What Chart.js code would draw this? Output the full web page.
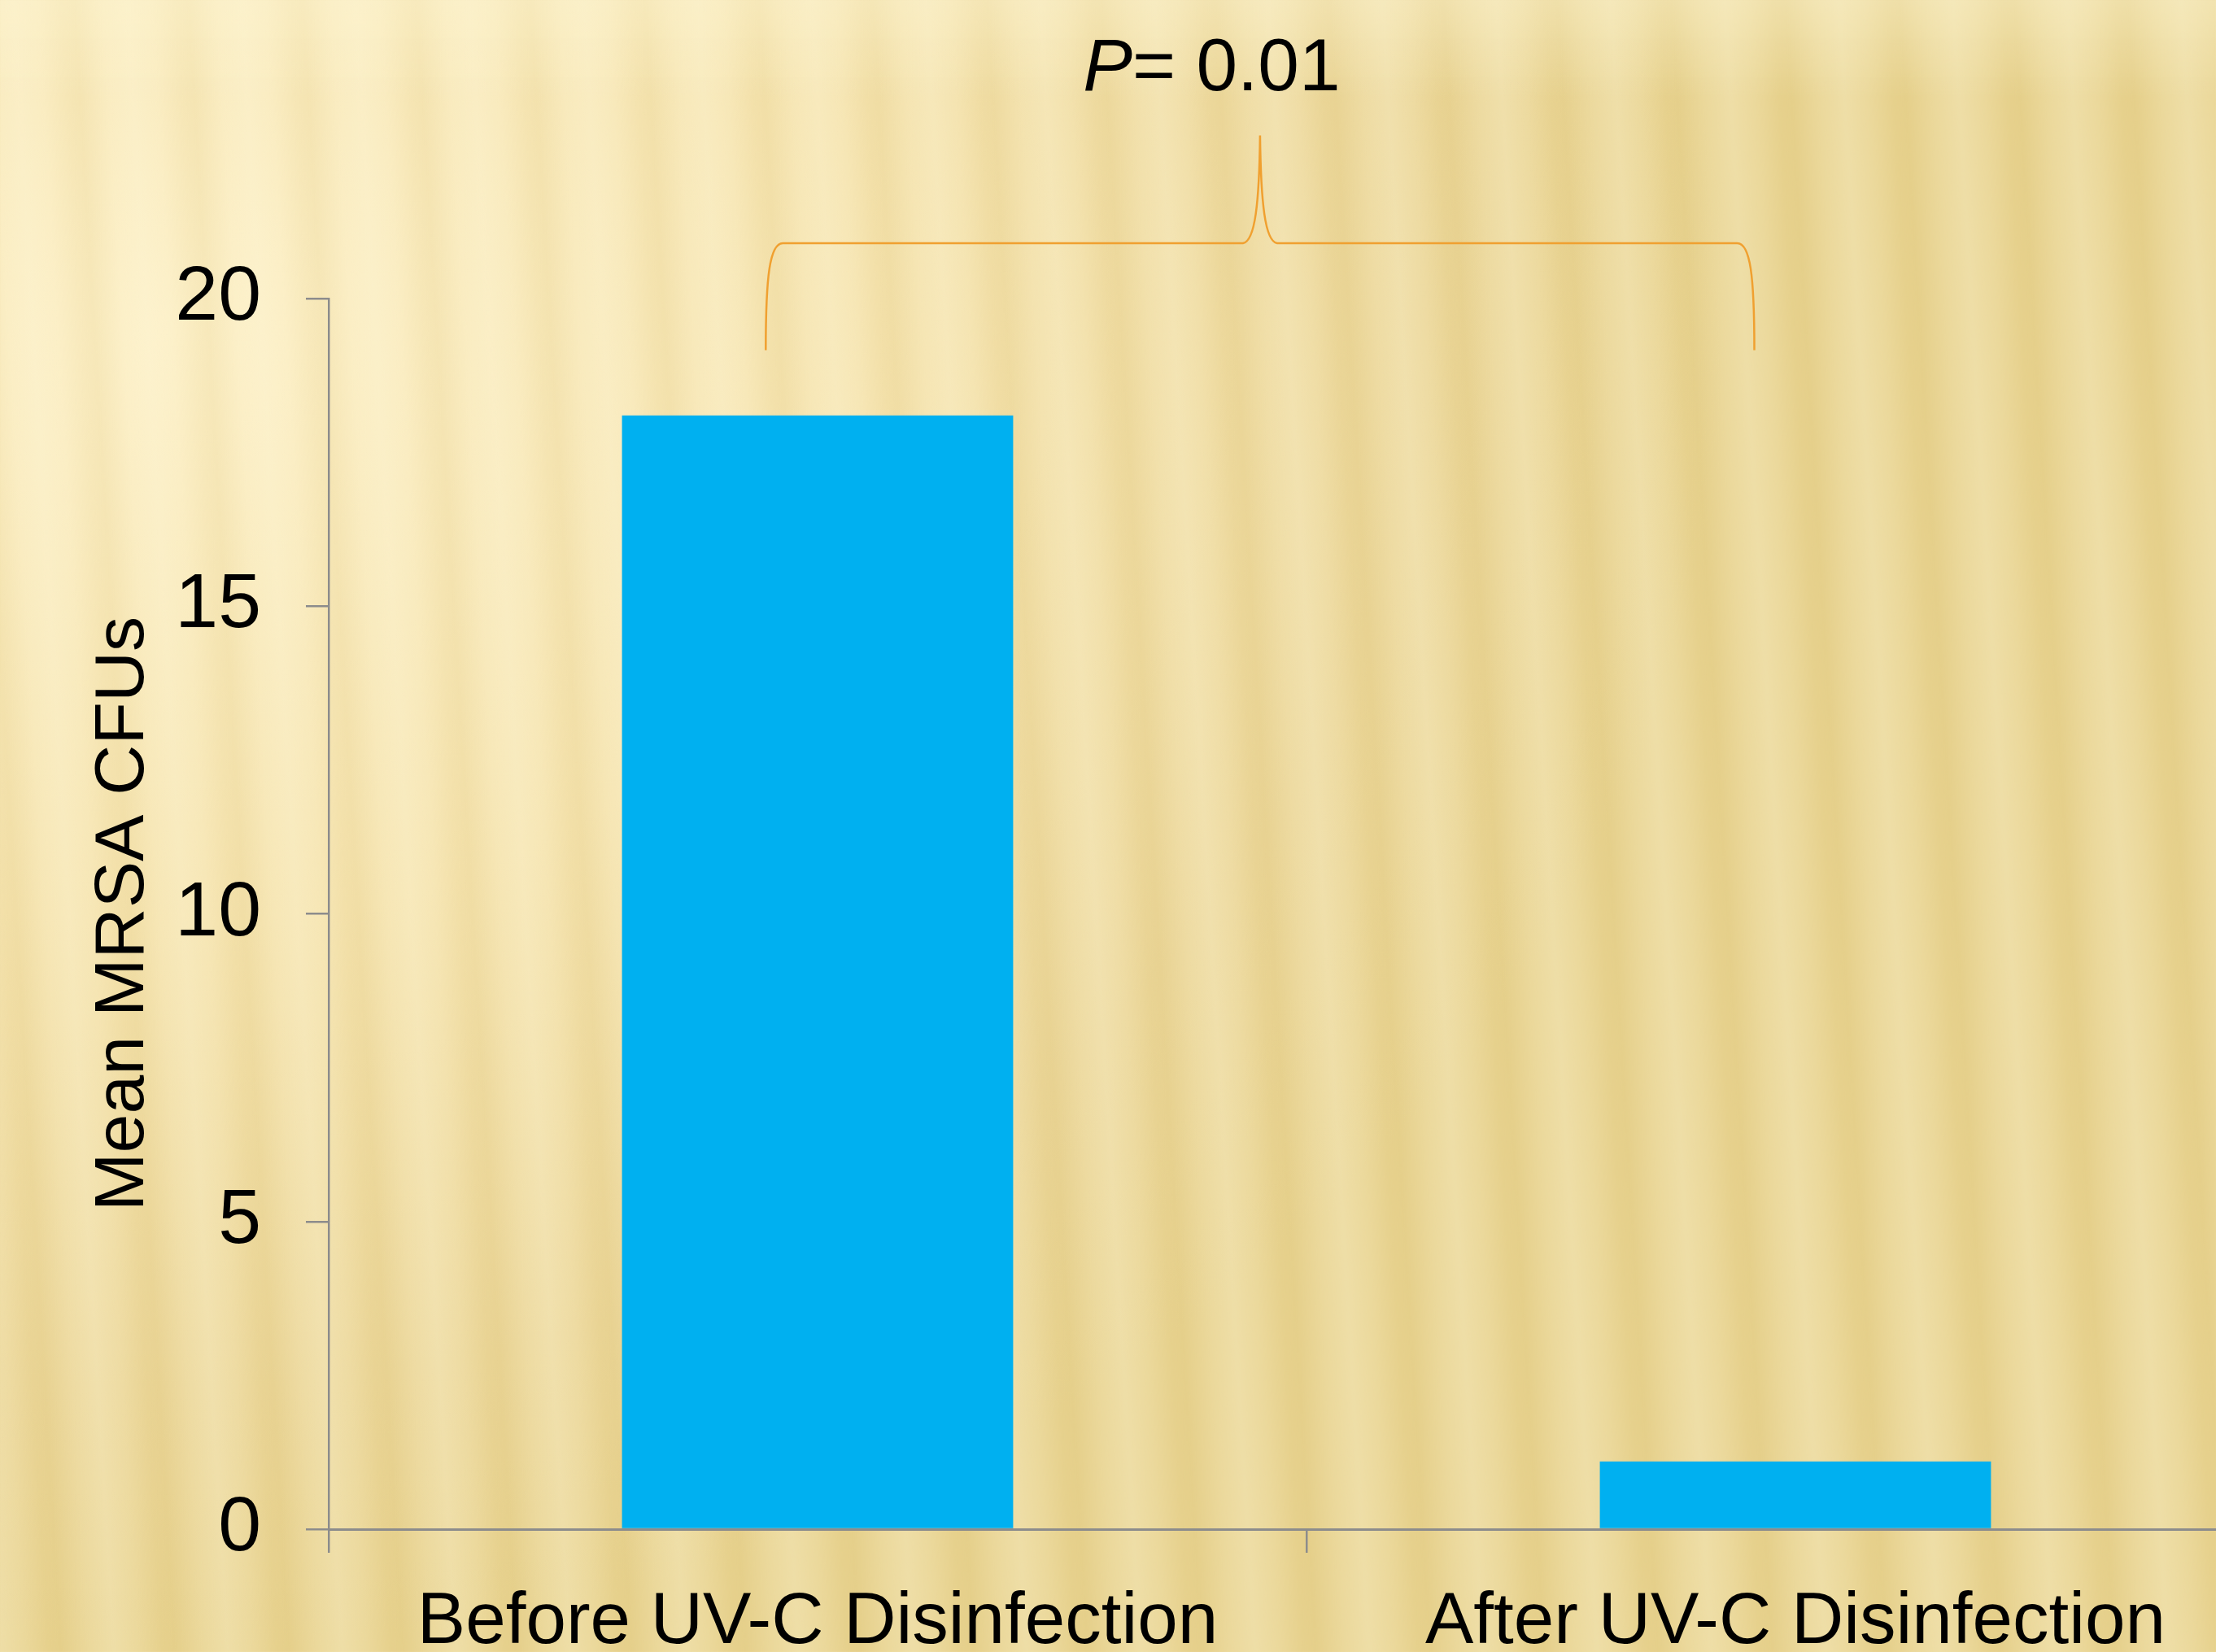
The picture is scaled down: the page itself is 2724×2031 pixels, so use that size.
<!DOCTYPE html>
<html>
<head>
<meta charset="utf-8">
<script src="https://cdn.jsdelivr.net/npm/chart.js@4.4.1/dist/chart.umd.min.js"></script>
<style>
html, body { margin: 0; padding: 0; width: 2724px; height: 2031px; overflow: hidden; }
body {
	background:
		linear-gradient(180deg, rgba(255,248,215,0.40) 0px, rgba(255,248,215,0) 120px),
		repeating-linear-gradient(86.5deg, rgba(255,250,225,0.28) 0px, rgba(255,250,225,0.14) 30px, rgba(200,170,80,0.06) 60px, rgba(200,170,80,0.09) 75px, rgba(255,250,225,0.14) 110px, rgba(255,250,225,0.28) 140px),
		radial-gradient(ellipse 70% 80% at 8% 20%, #FCEFC6 0%, #F5E3AE 45%, #EBD698 80%, #E8D390 100%);
}
#wrap { position: absolute; left: 0; top: 0; width: 2808px; height: 2031px; }
</style>
</head>
<body>
<div id="wrap"><canvas id="mycanvas"></canvas></div>
<script>
var categories = ['Before UV-C Disinfection', 'After UV-C Disinfection'];
var mrsaMean = [18.1, 1.1];
var yTicks = [0, 5, 10, 15, 20];
var pValue = '0.01';

var fam = '"Liberation Sans", Arial, sans-serif';

// curly bracket + P value above the two bars, placed in data units
var bracePlugin = {
	id: 'brace',
	afterDraw: function(chart) {
		var x = chart.scales.x, y = chart.scales.y, c = chart.ctx;
		var xl = x.getPixelForValue(-0.053), xm = x.getPixelForValue(0.4525), xr = x.getPixelForValue(0.958);
		var yb = y.getPixelForValue(19.16), yh = y.getPixelForValue(20.9), yp = y.getPixelForValue(22.65);
		var r = 21;
		c.save();
		c.strokeStyle = '#F0A030';
		c.lineWidth = 2.5;
		c.beginPath();
		c.moveTo(xl, yb);
		c.bezierCurveTo(xl, yh + 40, xl + 5, yh, xl + r, yh);
		c.lineTo(xm - r, yh);
		c.bezierCurveTo(xm - 6, yh - 2, xm - 1, yh - 50, xm, yp);
		c.bezierCurveTo(xm + 1, yh - 50, xm + 6, yh - 2, xm + r, yh);
		c.lineTo(xr - r, yh);
		c.bezierCurveTo(xr - 5, yh, xr, yh + 40, xr, yb);
		c.stroke();

		var fs = 91;
		c.fillStyle = '#000';
		c.textBaseline = 'alphabetic';
		c.textAlign = 'left';
		c.font = 'italic ' + fs + 'px ' + fam;
		var wP = c.measureText('P').width;
		c.font = fs + 'px ' + fam;
		var rest = '= ' + pValue;
		var wR = c.measureText(rest).width;
		var tx = x.getPixelForValue(0.403) - (wP + wR) / 2;
		var ty = y.getPixelForValue(23.38);
		c.font = 'italic ' + fs + 'px ' + fam;
		c.fillText('P', tx, ty);
		c.font = fs + 'px ' + fam;
		c.fillText(rest, tx + wP, ty);
		c.restore();
	}
};

var ctx = document.getElementById('mycanvas');

var barGraph = new Chart(ctx, {
	type: 'bar',
	data: {
		labels: categories,
		datasets: [{
			data: mrsaMean,
			backgroundColor: '#00B0F0',
			barPercentage: 0.4,
			categoryPercentage: 1.0
		}]
	},
	options: {
		responsive: true,
		maintainAspectRatio: false,
		animation: false,
		layout: { padding: { top: 367, left: 0, right: 0, bottom: 0 } },
		plugins: { legend: { display: false }, tooltip: { enabled: false } },
		scales: {
			x: {
				grid: { offset: true, drawOnChartArea: false, drawTicks: true, tickLength: 29, color: '#8C8C8C', lineWidth: 2.5 },
				border: { display: true, color: '#8C8C8C', width: 3 },
				ticks: { color: '#000', font: { family: fam, size: 89 }, padding: 33, maxRotation: 0, autoSkip: false },
				afterFit: function(s) { s.height = 151; }
			},
			y: {
				min: 0,
				max: 20,
				afterBuildTicks: function(s) { s.ticks = yTicks.map(function(v) { return { value: v }; }); },
				grid: { drawOnChartArea: false, drawTicks: true, tickLength: 28, color: '#8C8C8C', lineWidth: 2.5 },
				border: { display: true, color: '#8C8C8C', width: 2.5 },
				ticks: { color: '#000', font: { family: fam, size: 95 }, padding: 55 },
				title: { display: true, text: 'Mean MRSA CFUs', color: '#000', font: { family: fam, size: 86 }, padding: { top: 101, bottom: 0 } },
				afterFit: function(s) { s.width = 404; }
			}
		}
	},
	plugins: [bracePlugin]
});
</script>
</body>
</html>
